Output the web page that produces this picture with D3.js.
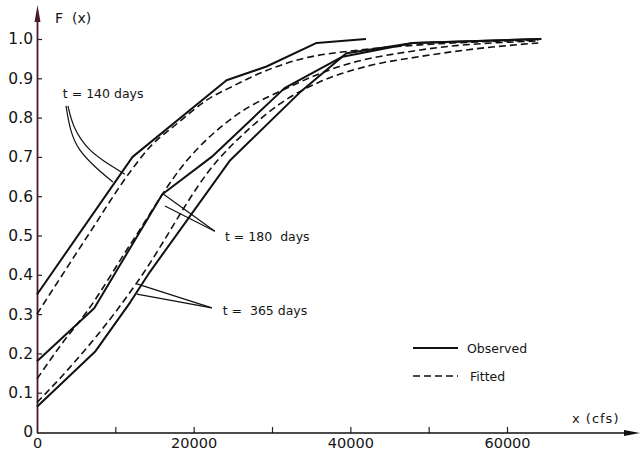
<!DOCTYPE html>
<html>
<head>
<meta charset="utf-8">
<script src="https://cdn.jsdelivr.net/npm/d3@7"></script>
<style>
  body { margin: 0; background: #fff; }
  text { font-family: "DejaVu Sans", sans-serif; fill: #151515; }
</style>
</head>
<body>
<div id="chart"></div>
<script>
// cumulative distributions F(x), points are [flow in cfs, F]
var obs140 = [[0, 0.35], [12200, 0.70], [24200, 0.895], [29300, 0.93], [35700, 0.99], [42000, 1.0]];
var fit140 = [[0, 0.30], [6500, 0.50], [12000, 0.665], [14400, 0.725], [17900, 0.785], [21700, 0.845],
              [25000, 0.88], [29300, 0.92], [33500, 0.948], [41200, 0.972], [48900, 0.985], [64000, 0.997]];
var obs180 = [[0, 0.18], [7300, 0.315], [16000, 0.605], [22300, 0.70], [31600, 0.875], [39000, 0.955],
              [48000, 0.99], [64000, 1.0]];
var fit180 = [[0, 0.135], [3000, 0.22], [6500, 0.31], [12000, 0.48], [19100, 0.69], [25000, 0.80],
              [31900, 0.875], [38600, 0.93], [48900, 0.972], [64000, 0.995]];
var obs365 = [[0, 0.064], [7400, 0.204], [11900, 0.33], [14400, 0.407], [24600, 0.69], [33500, 0.863],
              [39500, 0.964], [48000, 0.99], [64400, 1.0]];
var fit365 = [[0, 0.075], [4000, 0.16], [10200, 0.31], [12750, 0.38], [23000, 0.69], [27000, 0.77],
              [31000, 0.835], [36000, 0.89], [42000, 0.93], [48800, 0.955], [56000, 0.975], [64000, 0.99]];

var yTicks = [0, 0.1, 0.2, 0.3, 0.4, 0.5, 0.6, 0.7, 0.8, 0.9, 1.0];
var xTicks = [0, 10000, 20000, 30000, 40000, 50000, 60000];
var xLabels = [0, 20000, 40000, 60000];

// labels with their leader lines (curved for 140 days)
var labels = [
    {text: "t = 140 days", at: [3300, 0.85],
     leaders: [[[3700, 0.83], [4210, 0.768], [5230, 0.718], [7400, 0.674], [9690, 0.636]],
               [[3950, 0.83], [4590, 0.774], [6500, 0.718], [8670, 0.687], [11220, 0.656]]]},
    {text: "t = 180  days", at: [24000, 0.485],
     leaders: [[[22700, 0.511], [16070, 0.606]], [[22700, 0.511], [16330, 0.575]]]},
    {text: "t =  365 days", at: [23700, 0.298],
     leaders: [[[22320, 0.316], [12755, 0.377]], [[22320, 0.316], [12755, 0.351]]]}
];

function drawChart() {
    var width = 642, height = 454;

    var svg = d3.select("#chart").append("svg")
        .attr("width", width)
        .attr("height", height);

    var x = d3.scaleLinear().domain([0, 60000]).range([37, 507]);
    var y = d3.scaleLinear().domain([0, 1]).range([432, 39]);

    var solid = d3.line()
        .x(function (d) { return x(d[0]); })
        .y(function (d) { return y(d[1]); });
    var smooth = d3.line()
        .x(function (d) { return x(d[0]); })
        .y(function (d) { return y(d[1]); })
        .curve(d3.curveMonotoneX);

    // axes: ticks point inward, domain drawn by hand with arrows
    var xAxis = d3.axisBottom(x)
        .tickValues(xTicks)
        .tickSizeInner(-6).tickSizeOuter(0).tickPadding(5)
        .tickFormat(function (d) { return xLabels.indexOf(d) >= 0 ? d : ""; });
    var gx = svg.append("g").attr("transform", "translate(0,433)").call(xAxis);
    gx.select(".domain").remove();
    gx.selectAll(".tick line").attr("stroke", "#222").attr("stroke-width", 1.2)
        .filter(function (d) { return d === 0; }).remove();
    gx.selectAll("text").attr("font-size", 14.5).attr("fill", "#151515")
        .style("font-family", "DejaVu Sans");

    var yAxis = d3.axisLeft(y)
        .tickValues(yTicks)
        .tickSizeInner(-5).tickSizeOuter(0).tickPadding(4)
        .tickFormat(function (d) { return d === 0 ? "0" : d3.format(".1f")(d); });
    var gy = svg.append("g").attr("transform", "translate(37,0)").call(yAxis);
    gy.select(".domain").remove();
    gy.selectAll(".tick line").attr("stroke", "#222").attr("stroke-width", 1.2)
        .filter(function (d) { return d === 0; }).remove();
    gy.selectAll("text").attr("font-size", 15.5).attr("fill", "#151515")
        .style("font-family", "DejaVu Sans");

    svg.append("line")
        .attr("x1", 37).attr("y1", 433).attr("x2", 628).attr("y2", 433)
        .attr("stroke", "#111").attr("stroke-width", 1.6);
    svg.append("path")
        .attr("d", "M624,430 L640,433 L624,436 Z")
        .attr("fill", "#111");
    svg.append("line")
        .attr("x1", 37.5).attr("y1", 433).attr("x2", 37.5).attr("y2", 16)
        .attr("stroke", "#4a1a2c").attr("stroke-width", 1.8);
    svg.append("path")
        .attr("d", "M34.5,22 L37.5,5 L40.5,22 Z")
        .attr("fill", "#4a1a2c");

    svg.append("text").attr("x", 55).attr("y", 23).attr("font-size", 14)
        .style("white-space", "pre")
        .text("F  (x)");
    svg.append("text").attr("x", 572).attr("y", 423).attr("font-size", 13)
        .attr("letter-spacing", 1)
        .style("white-space", "pre")
        .text("x (cfs)");

    // curves
    [obs140, obs180, obs365].forEach(function (s) {
        svg.append("path").datum(s)
            .attr("d", solid)
            .attr("fill", "none").attr("stroke", "#111")
            .attr("stroke-width", 2).attr("stroke-linejoin", "round");
    });
    [fit140, fit180, fit365].forEach(function (s) {
        svg.append("path").datum(s)
            .attr("d", smooth)
            .attr("fill", "none").attr("stroke", "#111")
            .attr("stroke-width", 1.6).attr("stroke-dasharray", "7,4");
    });

    // labels and leader lines
    var leader = d3.line()
        .x(function (d) { return x(d[0]); })
        .y(function (d) { return y(d[1]); })
        .curve(d3.curveBasis);
    labels.forEach(function (l) {
        l.leaders.forEach(function (pts) {
            svg.append("path").attr("d", leader(pts))
                .attr("fill", "none").attr("stroke", "#111").attr("stroke-width", 1.2);
        });
        svg.append("text")
            .attr("x", x(l.at[0])).attr("y", y(l.at[1]))
            .attr("font-size", 12.5)
            .style("white-space", "pre")
            .text(l.text);
    });

    // legend
    var legend = svg.append("g");
    legend.append("line").attr("x1", 413).attr("x2", 458).attr("y1", 348).attr("y2", 348)
        .attr("stroke", "#111").attr("stroke-width", 2);
    legend.append("line").attr("x1", 413).attr("x2", 458).attr("y1", 376).attr("y2", 376)
        .attr("stroke", "#111").attr("stroke-width", 1.5).attr("stroke-dasharray", "7,4");
    legend.append("text").attr("x", 467).attr("y", 353).attr("font-size", 12.5).text("Observed");
    legend.append("text").attr("x", 470).attr("y", 381).attr("font-size", 12.5).text("Fitted");
}

drawChart();
</script>
</body>
</html>
